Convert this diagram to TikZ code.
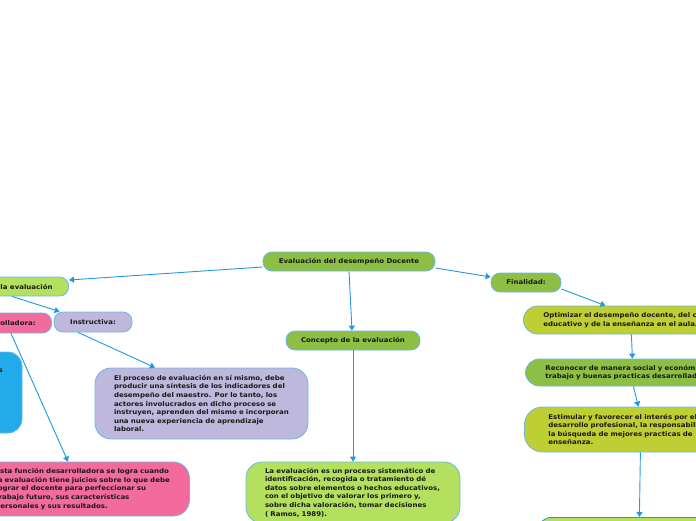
\documentclass[tikz,border=0pt]{standalone}
\usepackage{fontspec}
\setmainfont{DejaVu Sans}[FakeStretch=1.08]
\usetikzlibrary{arrows.meta,calc}
\definecolor{cgreen}{HTML}{8CBF44}
\definecolor{clime}{HTML}{B3E05E}
\definecolor{cyel}{HTML}{BFCE32}
\definecolor{cpink}{HTML}{F26B9C}
\definecolor{clav}{HTML}{BDB8DC}
\definecolor{cblue}{HTML}{22ABEB}
\definecolor{cborder}{HTML}{6CB8E6}
\definecolor{carrow}{HTML}{2199E0}
\definecolor{ctext}{HTML}{1A1A1A}
\tikzset{
  every node/.style={font=\bfseries\fontsize{6.5}{8.6}\selectfont, text=ctext},
  pill/.style={draw=cborder, line width=0.8pt, rounded corners=9pt, minimum height=19pt, inner ysep=0pt, align=center},
  bigbox/.style={draw=cborder, line width=0.8pt, rounded corners=16pt, align=left, inner ysep=0pt},
  conn/.style={draw=carrow, line width=0.9pt, -{Triangle[length=5pt,width=6pt]}},
}
\begin{document}
\begin{tikzpicture}[x=1pt,y=-1pt]
\useasboundingbox (0,0) rectangle (696,520);
% root
\node[pill, fill=cgreen, minimum width=172pt] (root) at (349,261.5) {Evaluación del desempeño Docente};
% left branch
\node[pill, fill=clime, anchor=east, inner xsep=16pt] (fun) at (69,286.5) {Funciones de la evaluación};
\node[pill, fill=cpink, anchor=east, inner xsep=16pt, minimum height=20pt] (des) at (52,323) {Desarrolladora:};
\node[pill, fill=clav, minimum width=78pt, minimum height=20pt] (ins) at (93,322) {Instructiva:};
\node[draw=cborder, line width=0.8pt, fill=cblue, rounded corners=14pt, minimum width=62pt, minimum height=81pt] (blu) at (-9,392.5) {};
\node[anchor=north east, inner sep=0pt] (blut) at (3,369) {s};
\node[bigbox, fill=clav, minimum width=213pt, minimum height=71pt, text width=175pt, inner xsep=19pt] (itx) at (201.5,403.5) {El proceso de evaluación en sí mismo, debe\\producir una síntesis de los indicadores del\\desempeño del maestro. Por lo tanto, los\\actores involucrados en dicho proceso se\\instruyen, aprenden del mismo e incorporan\\una nueva experiencia de aprendizaje\\laboral.};
\node[bigbox, fill=cpink, minimum height=54pt, text width=180pt, inner xsep=14pt, anchor=west] (ptx) at (-19,489) {Esta función desarrolladora se logra cuando\\la evaluación tiene juicios sobre lo que debe\\lograr el docente para perfeccionar su\\trabajo futuro, sus características\\personales y sus resultados.};
% centre branch
\node[pill, fill=cgreen, minimum width=134pt] (con) at (353,340.5) {Concepto de la evaluación};
\node[bigbox, fill=clime, minimum width=214pt, minimum height=61pt, text width=176pt, inner xsep=19pt] (ctx) at (353,492.5) {La evaluación es un proceso sistemático de\\identificación, recogida o tratamiento dé\\datos sobre elementos o hechos educativos,\\con el objetivo de valorar los primero y,\\sobre dicha valoración, tomar decisiones\\( Ramos, 1989).};
% right branch
\node[pill, fill=cgreen, minimum width=70pt] (fin) at (526,282.5) {Finalidad:};
\node[bigbox, fill=cyel, rounded corners=14pt, minimum width=240pt, minimum height=28pt, text width=200pt, inner xsep=20pt, anchor=west] (opt) at (523,320) {Optimizar el desempeño docente, del centro\\educativo y de la enseñanza en el aula.};
\node[bigbox, fill=cgreen, rounded corners=14pt, minimum width=240pt, minimum height=27pt, text width=200pt, inner xsep=20pt, anchor=west] (rec) at (525,372.5) {Reconocer de manera social y económica el\\trabajo y buenas practicas desarrolladas};
\node[bigbox, fill=cyel, rounded corners=18pt, minimum width=240pt, minimum height=45pt, text width=200pt, inner xsep=24pt, anchor=west] (est) at (524,429.5) {Estimular y favorecer el interés por el\\desarrollo profesional, la responsabilidad y\\la búsqueda de mejores practicas de\\enseñanza.};
\node[bigbox, fill=clime, draw=carrow, rounded corners=14pt, minimum width=240pt, minimum height=40pt, anchor=north west] (bot) at (537,517) {};
% connectors
\draw[conn] ([yshift=-5.5pt]root.west) -- ([yshift=6.5pt]fun.east);
\draw[conn] ($(fun.south east)+(-57,0)$) -- ([xshift=6pt]ins.north west);
\draw[conn] ([xshift=-15pt]ins.south) -- ([xshift=-46.5pt]itx.north);
\draw[conn] ($(des.south east)+(-41,0)$) -- ($(ptx.north west)+(87,0)$);
\draw[conn] (root.south) -- ([xshift=-1pt]con.north);
\draw[conn] (con.south) -- (ctx.north);
\draw[conn] ([yshift=-6.5pt]root.east) -- ([yshift=5.5pt]fin.west);
\draw[conn] ([yshift=-6.5pt]fin.east) -- ([xshift=-38pt]opt.north);
\draw[conn] ([xshift=-12pt]opt.south) -- ([xshift=-13pt]rec.north);
\draw[conn] ([xshift=-12pt]rec.south) -- ([xshift=-10pt]est.north);
\draw[conn] ([xshift=-8pt]est.south) -- ([xshift=-18pt]bot.north);
\end{tikzpicture}
\end{document}
